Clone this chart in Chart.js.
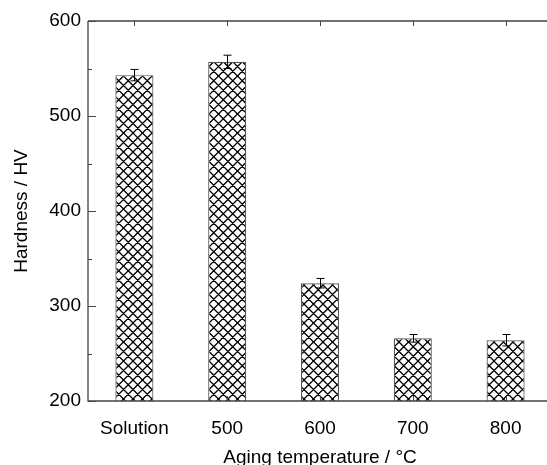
<!DOCTYPE html>
<html>
<head>
<meta charset="utf-8">
<script src="https://cdn.jsdelivr.net/npm/chart.js@4.4.0/dist/chart.umd.min.js"></script>
<style>
  html, body { margin: 0; padding: 0; background: #fff; overflow: hidden; }
</style>
</head>
<body>
<!-- plot box runs a few px past the right edge of the window, as in the figure -->
<canvas id="hardnessChart" width="552" height="465"></canvas>
<script>
// values
const categories = ['Solution', '500', '600', '700', '800'];
const hardness = [543, 557, 324, 266, 264];
const hardnessErr = [6, 7, 5, 4, 6];
const yTicks = [200, 300, 400, 500, 600];
const yMinor = [250, 350, 450, 550];

const FONT = "'Liberation Sans', Arial, sans-serif";
const AXIS_COLOR = '#444';

// cross hatch fill
function makeHatch() {
    const s = 9.5 * 2;
    const c = document.createElement('canvas');
    c.width = s; c.height = s;
    const g = c.getContext('2d');
    g.fillStyle = '#fff';
    g.fillRect(0, 0, s, s);
    g.strokeStyle = '#000';
    g.lineWidth = 1.3;
    g.beginPath();
    for (let k = -2; k <= 2; k++) {
        const o = k * s / 2;
        g.moveTo(o - 2, -2); g.lineTo(o + s + 2, s + 2);
        g.moveTo(o + s + 2, -2); g.lineTo(o - 2, s + 2);
    }
    g.stroke();
    return g.createPattern(c, 'repeat');
}

// axes frame + error bars
const framePlugin = {
    id: 'frame',
    afterDatasetsDraw(chart) {
        const ctx = chart.ctx;
        const x = chart.scales.x, y = chart.scales.y;
        const a = chart.chartArea;
        ctx.save();

        // error bars
        ctx.strokeStyle = '#000';
        ctx.lineWidth = 1;
        hardness.forEach(function (v, i) {
            const px = Math.round(x.getPixelForValue(i)) + 0.5;
            const top = y.getPixelForValue(v + hardnessErr[i]);
            const bot = y.getPixelForValue(v - hardnessErr[i]);
            ctx.beginPath();
            ctx.moveTo(px, top); ctx.lineTo(px, bot);
            ctx.moveTo(px - 4, top); ctx.lineTo(px + 4, top);
            ctx.moveTo(px - 4, bot); ctx.lineTo(px + 4, bot);
            ctx.stroke();
        });

        // frame lines
        ctx.strokeStyle = AXIS_COLOR;
        ctx.lineWidth = 1.3;
        ctx.beginPath();
        ctx.moveTo(a.left, a.top); ctx.lineTo(chart.width, a.top);
        ctx.moveTo(a.left, a.top); ctx.lineTo(a.left, a.bottom);
        ctx.lineTo(chart.width, a.bottom);
        ctx.stroke();

        // inward ticks on left axis
        ctx.lineWidth = 1;
        ctx.beginPath();
        yTicks.forEach(function (t) {
            const py = Math.round(y.getPixelForValue(t)) + 0.5;
            ctx.moveTo(a.left, py); ctx.lineTo(a.left + 8, py);
        });
        yMinor.forEach(function (t) {
            const py = Math.round(y.getPixelForValue(t)) + 0.5;
            ctx.moveTo(a.left, py); ctx.lineTo(a.left + 4, py);
        });
        // category ticks top and bottom
        categories.forEach(function (c, i) {
            const px = Math.round(x.getPixelForValue(i)) + 0.5;
            ctx.moveTo(px, a.bottom); ctx.lineTo(px, a.bottom - 5);
            ctx.moveTo(px, a.top); ctx.lineTo(px, a.top + 5);
        });
        ctx.stroke();
        ctx.restore();
    }
};

const ctx = document.getElementById('hardnessChart').getContext('2d');
const hardnessChart = new Chart(ctx, {
    type: 'bar',
    data: {
        labels: categories,
        datasets: [{
            label: 'Hardness',
            data: hardness,
            backgroundColor: makeHatch(),
            borderColor: '#555',
            borderWidth: 1.2,
            categoryPercentage: 1,
            barPercentage: 0.41
        }]
    },
    options: {
        responsive: false,
        animation: false,
        layout: { padding: { top: 21, right: 0, left: 0, bottom: 0 } },
        plugins: {
            legend: { display: false },
            tooltip: { enabled: false }
        },
        scales: {
            x: {
                grid: { display: false, drawTicks: false },
                border: { display: false },
                ticks: { color: '#000', font: { family: FONT, size: 19 }, padding: 16, maxRotation: 0 },
                title: {
                    display: true,
                    text: 'Aging temperature / °C',
                    color: '#000',
                    font: { family: FONT, size: 19, lineHeight: 0.8 },
                    padding: { top: 0, bottom: 0 }
                },
                afterFit: function (s) { s.height = 64; }
            },
            y: {
                min: 200,
                max: 600,
                grid: { display: false, drawTicks: false },
                border: { display: false },
                ticks: { stepSize: 100, color: '#000', font: { family: FONT, size: 19 }, padding: 7 },
                title: {
                    display: true,
                    text: 'Hardness / HV',
                    color: '#000',
                    font: { family: FONT, size: 19 },
                    padding: { top: 10.5, bottom: 0 }
                },
                afterFit: function (s) { s.width = 88; }
            }
        }
    },
    plugins: [framePlugin]
});
</script>
</body>
</html>
